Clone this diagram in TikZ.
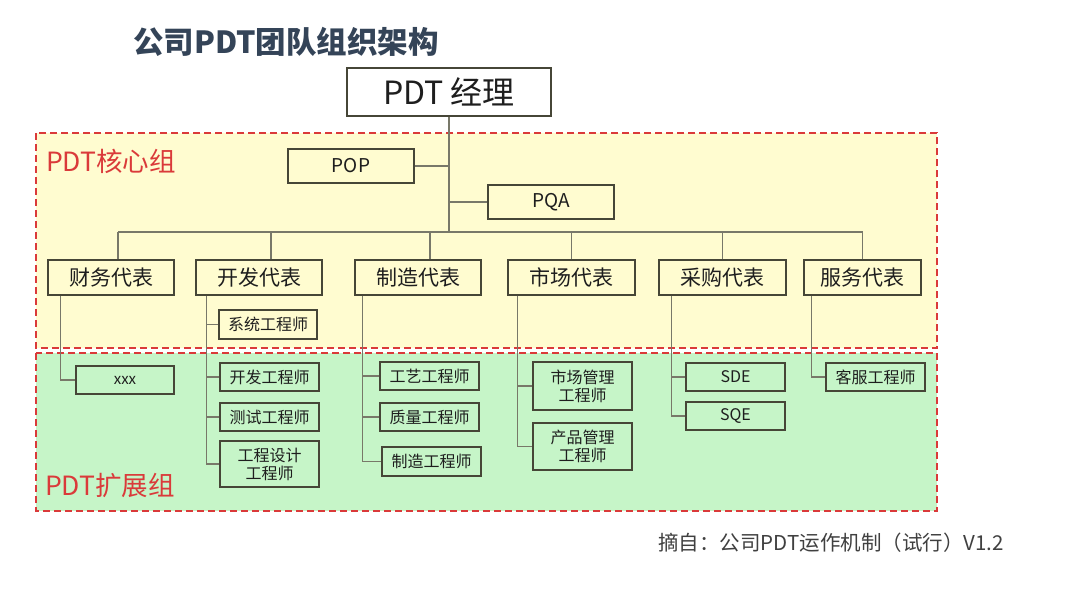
\documentclass[tikz,border=0pt]{standalone}
\usepackage{fontspec}
\setmainfont{Noto Sans CJK SC}
\definecolor{coreBg}{RGB}{255,252,208}
\definecolor{extBg}{RGB}{198,245,200}
\definecolor{grpRed}{RGB}{218,58,58}
\definecolor{boxLine}{RGB}{70,70,55}
\definecolor{conLine}{RGB}{120,120,105}
\definecolor{titleCol}{RGB}{52,68,88}
\definecolor{txt}{RGB}{30,30,30}
\tikzset{
  grp/.style={draw=grpRed, line width=1.8pt, dash pattern=on 7pt off 4pt},
  bx/.style={draw=boxLine, line width=1.4pt, inner sep=0pt, text=txt, align=center},
  topbox/.style={bx, minimum height=35pt, font=\fontsize{21}{25}\selectfont},
  subbox/.style={bx, minimum width=99pt, minimum height=28pt, font=\fontsize{16}{18}\selectfont},
  con/.style={draw=conLine, line width=1.1pt},
  grplabel/.style={text=grpRed, anchor=west, inner sep=0pt, font=\fontsize{26.5}{30}\selectfont}
}
\begin{document}
\begin{tikzpicture}[x=1pt,y=-1pt]
\useasboundingbox (0,0) rectangle (1080,608);
\fill[white] (0,0) rectangle (1080,608);
% groups
\draw[grp, fill=coreBg] (36,133) rectangle (937,348);
\draw[grp, fill=extBg] (36,353) rectangle (937,511);
\node[grplabel] (lcore) at (46,161) {PDT核心组};
\node[grplabel] (lext) at (45,485) {PDT扩展组};
% title
\node[text=titleCol, inner sep=0pt, font=\fontsize{30.5}{34}\selectfont\bfseries] (title) at (286,42) {公司PDT团队组织架构};
% manager
\node[bx, fill=white, minimum width=204pt, minimum height=48pt, font=\fontsize{32}{38}\selectfont] (mgr) at (449,92) {PDT 经理};
\node[bx, fill=coreBg, minimum width=126pt, minimum height=34pt, font=\fontsize{19}{22}\selectfont] (pop) at (351,166) {POP};
\node[bx, fill=coreBg, minimum width=126pt, minimum height=34pt, font=\fontsize{19}{22}\selectfont] (pqa) at (551,202) {PQA};
% top row
\node[topbox, minimum width=126pt] (cw) at (111,277.5) {财务代表};
\node[topbox, minimum width=126pt] (kf) at (259,277.5) {开发代表};
\node[topbox, minimum width=126pt] (zz) at (418,277.5) {制造代表};
\node[topbox, minimum width=127pt] (sc) at (571.5,277.5) {市场代表};
\node[topbox, minimum width=127pt] (cg) at (722.5,277.5) {采购代表};
\node[topbox, minimum width=117pt] (fw) at (862.5,277.5) {服务代表};
% sub boxes
\node[subbox, minimum width=98pt, font=\fontsize{15}{18}\selectfont] (xxx) at (125,380) {xxx};
\node[subbox, minimum width=98pt, minimum height=29pt] (xt) at (268,324.5) {系统工程师};
\node[subbox] (kfe) at (269.5,377) {开发工程师};
\node[subbox] (cs) at (269.5,417) {测试工程师};
\node[subbox, minimum height=46pt] (gc) at (269.5,464) {工程设计\\工程师};
\node[subbox] (gy) at (429.5,376) {工艺工程师};
\node[subbox] (zl) at (429.5,417) {质量工程师};
\node[subbox, minimum height=29pt] (zze) at (431.5,461.5) {制造工程师};
\node[subbox, minimum height=48pt] (scgl) at (582.5,386) {市场管理\\工程师};
\node[subbox, minimum height=47pt] (cpgl) at (582.5,446.5) {产品管理\\工程师};
\node[subbox] (sde) at (735.5,377) {SDE};
\node[subbox] (sqe) at (735.5,416) {SQE};
\node[subbox] (kfg) at (875.5,377) {客服工程师};
% connectors
\coordinate (barL) at (118,232);
\coordinate (barR) at (863,232);
\draw[con] (mgr.south) -- (mgr.south |- barL);
\draw[con] (barL) -- (barR);
\draw[con] (pop.east) -- (pop.east -| mgr.south);
\draw[con] (pqa.west) -- (pqa.west -| mgr.south);
\draw[con] ([xshift=7pt]cw.north) -- ([xshift=7pt]cw.north |- barL);
\draw[con] ([xshift=12pt]kf.north) -- ([xshift=12pt]kf.north |- barL);
\draw[con] ([xshift=12pt]zz.north) -- ([xshift=12pt]zz.north |- barL);
\draw[con] (sc.north) -- (sc.north |- barL);
\draw[con] (cg.north) -- (cg.north |- barL);
\draw[con] (fw.north) -- (fw.north |- barL);
% branches
\coordinate (cwT) at ([xshift=13pt]cw.south west);
\draw[con] (cwT) |- (xxx.west);
\coordinate (kfT) at ([xshift=11pt]kf.south west);
\draw[con] (kfT) |- (gc.west);
\foreach \b in {xt,kfe,cs} \draw[con] (\b.west) -- (\b.west -| kfT);
\coordinate (zzT) at ([xshift=8pt]zz.south west);
\draw[con] (zzT) |- (zze.west);
\foreach \b in {gy,zl} \draw[con] (\b.west) -- (\b.west -| zzT);
\coordinate (scT) at ([xshift=10pt]sc.south west);
\draw[con] (scT) |- (cpgl.west);
\draw[con] (scgl.west) -- (scgl.west -| scT);
\coordinate (cgT) at ([xshift=13pt]cg.south west);
\draw[con] (cgT) |- (sqe.west);
\draw[con] (sde.west) -- (sde.west -| cgT);
\coordinate (fwT) at ([xshift=8pt]fw.south west);
\draw[con] (fwT) |- (kfg.west);
% footer
\node[anchor=east, inner sep=0pt, text=black!75, font=\fontsize{20.5}{24}\selectfont] (src) at (1004,543) {摘自：公司PDT运作机制（试行）V1.2};
\end{tikzpicture}
\end{document}
